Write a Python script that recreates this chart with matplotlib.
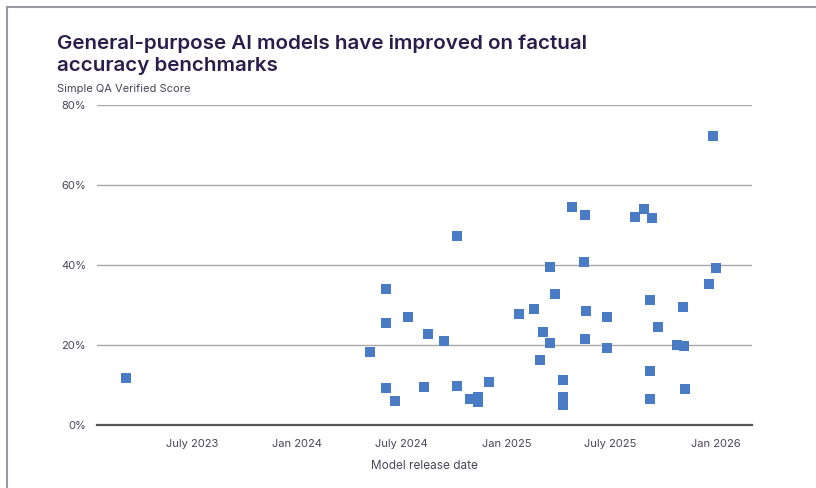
import matplotlib
matplotlib.use('Agg')
import matplotlib.pyplot as plt
from matplotlib.lines import Line2D
import pandas as pd

# release dates and Simple QA Verified scores (%)
dates = ['2023-03-08', '2024-05-07', '2024-06-04', '2024-06-04', '2024-06-04',
         '2024-06-19', '2024-07-12', '2024-08-09', '2024-08-16', '2024-09-13',
         '2024-10-06', '2024-10-06', '2024-10-28', '2024-11-11', '2024-11-11',
         '2024-12-01', '2025-01-22', '2025-02-17', '2025-02-28', '2025-03-05',
         '2025-03-17', '2025-03-17', '2025-03-26', '2025-04-09', '2025-04-09',
         '2025-04-09', '2025-04-09', '2025-04-25', '2025-05-15', '2025-05-17',
         '2025-05-19', '2025-05-17', '2025-06-25', '2025-06-25', '2025-08-13',
         '2025-08-28', '2025-09-08', '2025-09-08', '2025-09-08', '2025-09-11',
         '2025-09-22', '2025-10-25', '2025-11-04', '2025-11-06', '2025-11-08',
         '2025-12-20', '2025-12-27', '2026-01-01']
scores = [11.7, 18.2, 34.0, 25.5, 9.2,
          6.0, 27.0, 9.5, 22.7, 21.0,
          47.3, 9.7, 6.5, 7.0, 5.8,
          10.7, 27.7, 29.0, 16.3, 23.2,
          39.5, 20.5, 32.7, 11.2, 7.0,
          6.0, 5.0, 54.5, 40.7, 21.5,
          28.5, 52.5, 27.0, 19.2, 52.0,
          54.0, 31.2, 13.5, 6.5, 51.7,
          24.5, 20.0, 29.5, 19.7, 9.0,
          35.2, 72.2, 39.2]

tick_dates = ['2023-07-01', '2024-01-01', '2024-07-01', '2025-01-01', '2025-07-01', '2026-01-01']
tick_labels = ['July 2023', 'Jan 2024', 'July 2024', 'Jan 2025', 'July 2025', 'Jan 2026']
y_ticks = [0, 20, 40, 60, 80]

title_col = '#2b1d4a'
text_col = '#4a4458'

plt.rcParams['font.family'] = ['Inter', 'DejaVu Sans']

fig = plt.figure(figsize=(8.16, 4.88), dpi=100)
ax = fig.add_axes([0.119, 0.129, 0.8026, 0.656])

x = pd.to_datetime(dates)
ax.scatter(x, scores, marker='s', s=48, color='#4a7cc6', linewidths=0, zorder=3)

ax.set_xlim(pd.Timestamp('2023-01-16'), pd.Timestamp('2026-03-05'))
ax.set_ylim(0, 80)
ax.set_xticks(pd.to_datetime(tick_dates))
ax.set_xticklabels(tick_labels)
ax.set_yticks(y_ticks)
ax.set_yticklabels([f'{v}%' for v in y_ticks])
ax.tick_params(length=0, labelsize=8, colors=text_col, pad=8)
ax.tick_params(axis='x', pad=10)

ax.grid(axis='y', color='#a8a8a8', linewidth=1)
ax.set_axisbelow(True)
for s in ['top', 'right', 'left']:
    ax.spines[s].set_visible(False)
ax.spines['bottom'].set_color('#555555')
ax.spines['bottom'].set_linewidth(1.6)

ax.set_xlabel('Model release date', fontsize=8.5, color=text_col, labelpad=8)

fig.text(0.07, 0.93, 'General-purpose AI models have improved on factual\naccuracy benchmarks',
         fontsize=14.8, fontweight='semibold', color=title_col, va='top', linespacing=1.3)
fig.text(0.07, 0.817, 'Simple QA Verified Score', fontsize=8, color=text_col, va='center')

# thin frame around the card (top and left edges visible)
fig.add_artist(Line2D([0.009, 1.0], [0.985, 0.985], color='#9a9aa6', linewidth=1.5))
fig.add_artist(Line2D([0.009, 0.009], [0.0, 0.985], color='#9a9aa6', linewidth=1.5))

fig.savefig('out.png', dpi=100)
